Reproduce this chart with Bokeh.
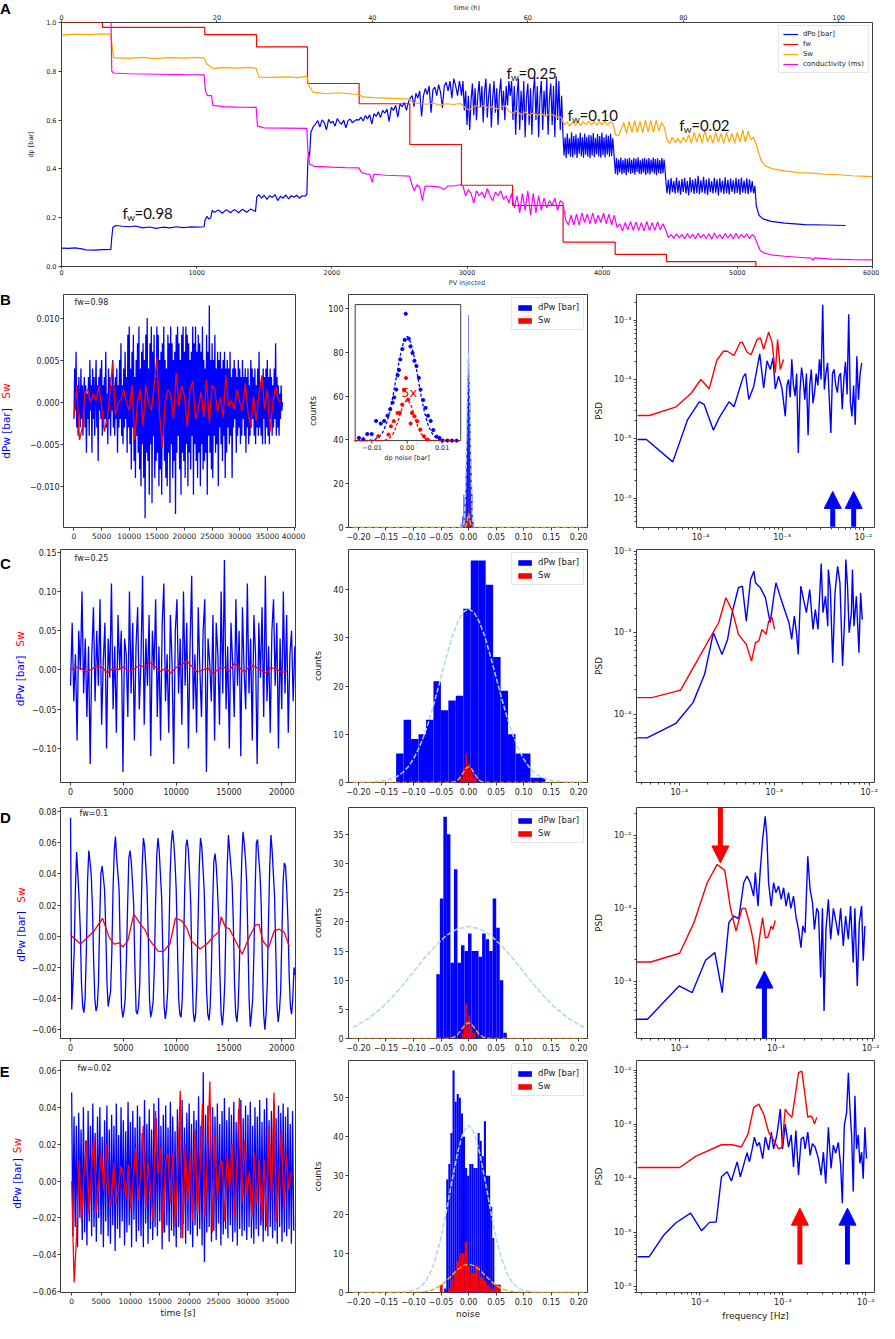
import numpy as np
from bokeh.plotting import figure
from bokeh.layouts import column, row
from bokeh.models import Range1d, LinearAxis, FixedTicker, Label, Arrow, NormalHead
from bokeh.core.properties import value
from bokeh.embed import file_html
from bokeh.resources import INLINE

# ======================= DATA : panel A =======================
pv_per_hour = 57.5
fw_pv = [0, 303, 1060, 1443, 1820, 2202, 2577, 2959, 3337, 3711, 4096, 4476, 5137, 5800]
fw_val = [1.0, 0.98, 0.95, 0.90, 0.75, 0.667, 0.50, 0.333, 0.25, 0.10, 0.05, 0.02, 0.0, 0.0]

dpo_pv = [0, 50, 100, 150, 180, 250, 300, 365, 372, 380, 400, 450, 500, 550, 600, 650, 700, 750, 800, 850,
          900, 950, 1000, 1055, 1062, 1075, 1090, 1105, 1115, 1130, 1160, 1190, 1220, 1250, 1280, 1310, 1340,
          1370, 1400, 1435, 1445, 1460, 1480, 1500, 1520, 1540, 1560, 1580, 1600, 1620, 1640, 1660, 1680, 1700,
          1720, 1740, 1760, 1780, 1800, 1815, 1822, 1828, 1835, 1845, 1860]
dpo_val = [0.075, 0.074, 0.076, 0.072, 0.068, 0.067, 0.069, 0.07, 0.12, 0.16, 0.168, 0.165, 0.163, 0.166, 0.158,
           0.162, 0.156, 0.161, 0.158, 0.163, 0.159, 0.162, 0.161, 0.163, 0.19, 0.205, 0.195, 0.20, 0.23, 0.222,
           0.232, 0.218, 0.233, 0.22, 0.234, 0.22, 0.235, 0.222, 0.236, 0.225, 0.285, 0.295, 0.28, 0.292, 0.275,
           0.29, 0.283, 0.294, 0.27, 0.288, 0.28, 0.293, 0.277, 0.29, 0.284, 0.292, 0.28, 0.29, 0.288, 0.295,
           0.42, 0.47, 0.45, 0.55, 0.57]
# noisy stretches: (start PV, PV step, values)
dpo_noisy = [
    (1880, 16, [0.585, 0.598, 0.572, 0.601, 0.590, 0.560, 0.603, 0.588, 0.595, 0.575, 0.606, 0.592, 0.583, 0.600,
                0.568, 0.598, 0.604, 0.589, 0.596, 0.602]),
    (2200, 16, [0.600, 0.612, 0.596, 0.618, 0.605, 0.622, 0.584, 0.627, 0.615, 0.634, 0.610, 0.640, 0.628, 0.645,
                0.595, 0.652, 0.640, 0.660, 0.612, 0.665, 0.655, 0.672, 0.640, 0.676]),
    (2580, 14, [0.690, 0.700, 0.655, 0.710, 0.690, 0.720, 0.615, 0.700, 0.730, 0.705, 0.740, 0.630, 0.725, 0.735,
                0.700, 0.745, 0.715, 0.650, 0.740, 0.755, 0.720, 0.760, 0.690, 0.770, 0.740, 0.700, 0.760]),
    (2950, 10, [0.740, 0.700, 0.760, 0.640, 0.720, 0.580, 0.700, 0.560, 0.680, 0.750, 0.620, 0.730, 0.600, 0.700,
                0.760, 0.650, 0.740, 0.590, 0.720, 0.770, 0.610, 0.700, 0.750, 0.570, 0.690, 0.760, 0.630, 0.730,
                0.580, 0.710, 0.770, 0.640, 0.720, 0.600, 0.740, 0.660, 0.760, 0.700]),
    (3330, 10, [0.760, 0.600, 0.740, 0.540, 0.700, 0.770, 0.560, 0.720, 0.600, 0.760, 0.530, 0.690, 0.750, 0.580,
                0.730, 0.540, 0.710, 0.780, 0.600, 0.740, 0.530, 0.700, 0.760, 0.560, 0.720, 0.620, 0.770, 0.540,
                0.690, 0.750, 0.580, 0.740, 0.530, 0.780, 0.600, 0.760, 0.560, 0.700]),
    (3710, 8, [0.540, 0.455, 0.530, 0.445, 0.545, 0.460, 0.525, 0.450, 0.550, 0.448, 0.535, 0.458, 0.542, 0.445,
               0.528, 0.462, 0.548, 0.452, 0.530, 0.446, 0.545, 0.458, 0.532, 0.450, 0.540, 0.444, 0.538, 0.455,
               0.547, 0.448, 0.526, 0.460, 0.543, 0.451, 0.535, 0.446, 0.549, 0.456, 0.530, 0.447, 0.541, 0.459,
               0.536, 0.450, 0.544, 0.453, 0.525, 0.470]),
    (4090, 8, [0.440, 0.380, 0.445, 0.375, 0.438, 0.385, 0.447, 0.378, 0.436, 0.382, 0.443, 0.374, 0.440, 0.386,
               0.446, 0.379, 0.437, 0.383, 0.444, 0.376, 0.441, 0.387, 0.448, 0.380, 0.435, 0.378, 0.442, 0.384,
               0.446, 0.375, 0.439, 0.381, 0.444, 0.377, 0.437, 0.386, 0.447, 0.380, 0.440, 0.374, 0.443, 0.383,
               0.436, 0.379, 0.445, 0.382, 0.438, 0.390]),
    (4470, 10, [0.360, 0.300, 0.355, 0.295, 0.362, 0.305, 0.350, 0.298, 0.365, 0.302, 0.352, 0.294, 0.358, 0.306,
                0.363, 0.299, 0.350, 0.292, 0.366, 0.304, 0.355, 0.297, 0.360, 0.301, 0.372, 0.296, 0.353, 0.303,
                0.368, 0.298, 0.356, 0.293, 0.361, 0.305, 0.350, 0.299, 0.364, 0.302, 0.357, 0.291, 0.362, 0.304,
                0.351, 0.297, 0.366, 0.300, 0.355, 0.295, 0.360, 0.306, 0.353, 0.298, 0.363, 0.301, 0.358, 0.294,
                0.365, 0.303, 0.352, 0.299, 0.361, 0.296, 0.357, 0.304, 0.350, 0.300]),
]
dpo_tail_pv = [5130, 5140, 5160, 5190, 5250, 5350, 5500, 5650, 5800]
dpo_tail_val = [0.33, 0.25, 0.21, 0.195, 0.185, 0.178, 0.172, 0.17, 0.168]

sw_pv = [0, 100, 200, 300, 365, 385, 500, 600, 700, 800, 900, 1000, 1055, 1075, 1100, 1120, 1200, 1300, 1400,
         1440, 1460, 1550, 1650, 1750, 1815, 1830, 1860, 1950, 2050, 2150, 2200, 2230, 2300, 2400, 2500, 2570,
         2600, 2650, 2700, 2750, 2800, 2850, 2900, 2950]
sw_val = [0.948, 0.952, 0.950, 0.953, 0.951, 0.856, 0.853, 0.857, 0.852, 0.856, 0.854, 0.857, 0.855, 0.83, 0.82,
          0.812, 0.815, 0.813, 0.816, 0.812, 0.776, 0.775, 0.777, 0.774, 0.78, 0.74, 0.715, 0.708, 0.712, 0.707,
          0.705, 0.695, 0.692, 0.69, 0.688, 0.686, 0.672, 0.668, 0.665, 0.669, 0.662, 0.667, 0.664, 0.668]
sw_noisy = [
    (2980, 30, [0.655, 0.642, 0.650, 0.660, 0.652, 0.661, 0.648, 0.656, 0.645, 0.653, 0.660, 0.635, 0.628, 0.638,
                0.622, 0.633, 0.620, 0.630, 0.618, 0.628, 0.615, 0.626, 0.620, 0.612, 0.610]),
    (3720, 20, [0.58, 0.592, 0.575, 0.593, 0.578, 0.595, 0.577, 0.594, 0.58, 0.596, 0.58, 0.597, 0.578, 0.594,
                0.581, 0.596, 0.579, 0.593, 0.585]),
    (4100, 20, [0.54, 0.535, 0.56, 0.59, 0.545, 0.595, 0.55, 0.598, 0.55, 0.595, 0.548, 0.6, 0.552, 0.598, 0.55,
                0.6, 0.555, 0.59, 0.57]),
    (4480, 20, [0.52, 0.505, 0.53, 0.508, 0.525, 0.505, 0.53, 0.51, 0.54, 0.505, 0.55, 0.51, 0.545, 0.505, 0.56,
                0.51, 0.54, 0.505, 0.55, 0.51, 0.545, 0.505, 0.55, 0.51, 0.545, 0.505, 0.55, 0.51, 0.56, 0.51,
                0.555, 0.52, 0.53]),
]
sw_tail_pv = [5140, 5160, 5180, 5210, 5260, 5350, 5450, 5550, 5650, 5750, 5850, 6000]
sw_tail_val = [0.50, 0.46, 0.43, 0.412, 0.40, 0.392, 0.385, 0.383, 0.378, 0.376, 0.372, 0.368]

cond_pv = [0, 365, 372, 385, 500, 700, 900, 1055, 1065, 1080, 1110, 1120, 1200, 1300, 1440, 1450, 1500, 1650,
           1815, 1822, 1835, 1870, 2000, 2100, 2200, 2220, 2250, 2280, 2300, 2310, 2400, 2500, 2575, 2590, 2610,
           2630, 2650, 2670, 2690, 2750, 2800, 2830, 2860, 2900, 2950]
cond_val = [1.05, 1.05, 0.80, 0.793, 0.79, 0.788, 0.786, 0.785, 0.72, 0.70, 0.70, 0.66, 0.655, 0.653, 0.652,
            0.575, 0.568, 0.567, 0.566, 0.48, 0.42, 0.41, 0.407, 0.405, 0.404, 0.385, 0.38, 0.378, 0.345, 0.378,
            0.374, 0.372, 0.37, 0.34, 0.31, 0.335, 0.325, 0.27, 0.33, 0.328, 0.325, 0.315, 0.33, 0.33, 0.335]
cond_noisy = [
    (2970, 20, [0.33, 0.29, 0.315, 0.30, 0.26, 0.31, 0.29, 0.305, 0.28, 0.32, 0.29, 0.27, 0.305, 0.29, 0.31, 0.275,
                0.29, 0.26, 0.30, 0.24, 0.29, 0.22, 0.30, 0.23, 0.31, 0.21, 0.30, 0.22, 0.29, 0.23, 0.28, 0.24,
                0.27, 0.25, 0.28, 0.23, 0.27, 0.26]),
    (3730, 20, [0.19, 0.17, 0.21, 0.17, 0.215, 0.17, 0.22, 0.18, 0.215, 0.175, 0.22, 0.175, 0.21, 0.18, 0.22,
                0.175, 0.215, 0.17, 0.21]),
    (4110, 20, [0.16, 0.175, 0.145, 0.18, 0.15, 0.185, 0.148, 0.182, 0.148, 0.18, 0.145, 0.185, 0.147, 0.18,
                0.148, 0.183, 0.15, 0.175, 0.15]),
    (4490, 20, [0.118, 0.132, 0.115, 0.134, 0.117, 0.131, 0.114, 0.135, 0.116, 0.133, 0.113, 0.136, 0.117, 0.132,
                0.115, 0.134, 0.112, 0.137, 0.116, 0.131, 0.114, 0.135, 0.117, 0.133, 0.113, 0.136, 0.115, 0.132,
                0.118, 0.134, 0.114, 0.131, 0.12]),
]
cond_tail_pv = [5150, 5170, 5200, 5250, 5350, 5450, 5550, 5560, 5570, 5700, 5850, 6000]
cond_tail_val = [0.09, 0.065, 0.055, 0.048, 0.042, 0.038, 0.034, 0.025, 0.035, 0.03, 0.028, 0.027]

fw_note_text = ["0.98", "0.25", "0.10", "0.02"]
fw_note_pv = [451, 3292, 3744, 4570]
fw_note_dp = [0.219, 0.794, 0.621, 0.578]

# ======================= DATA : rows B-E, time series =======================
b_dt, b_dt_sw = 125, 500
b_dpw = [-0.002, 0.004, -0.001, 0.006, -0.003, 0.002, -0.004, 0.003, 0.000, -0.003, 0.004, -0.002, 0.002, -0.004,
         0.001, 0.003, -0.003, 0.002, -0.006, 0.001,
         -0.002, 0.003, -0.004, 0.005, -0.001, 0.002, -0.006, 0.004, -0.002, 0.003, -0.004, 0.001, 0.005, -0.003,
         0.002, -0.007, 0.003, -0.001, 0.004, -0.002,
         0.005, -0.004, 0.002, -0.003, 0.003, -0.002, 0.006, -0.003, 0.001, -0.005, 0.004, -0.002, 0.003, -0.004,
         0.002, -0.001, 0.005, -0.003, 0.002, -0.004,
         0.003, -0.002, 0.004, -0.006, 0.002, -0.003, 0.005, -0.002, 0.007, -0.004, 0.002, -0.005, 0.004, -0.003,
         0.006, -0.002, 0.003, -0.006, 0.008, -0.003,
         0.009, -0.005, 0.004, -0.008, 0.006, -0.003, 0.008, -0.007, 0.003, -0.009, 0.005, -0.004, 0.007, -0.006,
         0.009, -0.008, 0.004, -0.010, 0.006, -0.005,
         0.007, -0.009, 0.005, -0.0138, 0.008, -0.006, 0.010, -0.007, 0.004, -0.011, 0.007, -0.005, 0.009, -0.012,
         0.006, -0.004, 0.008, -0.009, 0.003, -0.007,
         0.009, -0.006, 0.008, -0.010, 0.005, -0.008, 0.006, -0.011, 0.007, -0.004, 0.009, -0.007, 0.005, -0.009,
         0.004, -0.010, 0.008, -0.006, 0.007, -0.012,
         0.009, -0.005, 0.007, -0.009, 0.005, -0.007, 0.006, -0.0133, 0.008, -0.006, 0.009, -0.004, 0.007, -0.008,
         0.005, -0.011, 0.008, -0.006, 0.009, -0.007,
         0.006, -0.009, 0.009, -0.005, 0.008, -0.010, 0.007, -0.006, 0.005, -0.008, 0.006, -0.004, 0.009, -0.011,
         0.007, -0.005, 0.009, -0.007, 0.006, -0.009,
         0.008, -0.006, 0.007, -0.010, 0.006, -0.005, 0.009, -0.008, 0.005, -0.007, 0.004, -0.006, 0.008, -0.011,
         0.006, -0.004, 0.0115, -0.006, 0.005, -0.008,
         0.007, -0.009, 0.005, -0.004, 0.008, -0.006, 0.004, -0.005, 0.006, -0.010, 0.005, -0.003, 0.006, -0.005,
         0.004, -0.007, 0.005, -0.004, 0.006, -0.009,
         0.004, -0.006, 0.005, -0.003, 0.004, -0.005, 0.006, -0.004, 0.003, -0.009, 0.004, -0.003, 0.005, -0.002,
         0.004, -0.006, 0.003, -0.004, 0.005, -0.003,
         0.004, -0.005, 0.003, -0.004, 0.005, -0.002, 0.003, -0.004, 0.004, -0.006, 0.003, -0.003, 0.004, -0.005,
         0.002, -0.004, 0.005, -0.003, 0.004, -0.002,
         0.003, -0.004, 0.004, -0.005, 0.002, -0.003, 0.004, -0.004, 0.006, -0.003, 0.002, -0.004, 0.003, -0.005,
         0.004, -0.002, 0.003, -0.005, 0.004, -0.003,
         0.005, -0.004, 0.003, -0.005, 0.004, -0.002, 0.003, -0.004, 0.002, -0.003, 0.004, -0.002, 0.007, -0.004,
         0.003, -0.003, 0.002, -0.004, 0.001, -0.002, 0.002, -0.001, 0.0]
b_sw = [-0.0017, 0.002, -0.0045, -0.003, 0.0013, 0.0015, 0.0, 0.001, 0.0002, 0.002, -0.0005, -0.0035, -0.002,
        0.001, 0.0048, -0.0015, 0.0, 0.0003, 0.0015, 0.0, -0.001, 0.002, -0.0045, 0.0, 0.0015, -0.0028, 0.002,
        0.0, -0.001, 0.0018, 0.0053, -0.0015, -0.0054, 0.0, 0.0015, 0.001, -0.002, 0.0035, -0.0005, 0.002,
        0.0008, -0.003, 0.0015, 0.0025, -0.002, -0.0008, 0.0012, -0.0018, 0.0027, -0.0025, 0.002, 0.0015,
        -0.0012, 0.0005, -0.0018, 0.0032, -0.0005, 0.0002, -0.0008, 0.0015, 0.0, -0.001, 0.0022, -0.0012,
        -0.003, 0.0007, -0.0022, 0.001, 0.0032, -0.0008, 0.0015, -0.0035, 0.0, 0.0018, 0.0002, 0.0001]

c_dt, c_dt_sw = 155, 500
c_dpw = [-0.02, 0.06, -0.04, 0.02, -0.09, 0.05, 0.00, 0.10, -0.03, 0.04,
         -0.06, 0.03, -0.12, 0.02, 0.08, -0.04, 0.05, -0.02, 0.09, -0.07,
         0.01, 0.06, -0.10, 0.04, -0.01, 0.11, -0.05, 0.03, -0.08, 0.07,
         0.00, 0.05, -0.13, 0.04, 0.02, -0.06, 0.10, -0.03, 0.06, -0.09,
         0.03, 0.08, -0.05, 0.01, 0.12, -0.07, 0.04, -0.02, 0.07, -0.11,
         0.05, 0.00, 0.09, -0.06, 0.03, -0.09, 0.06, 0.11, -0.04, 0.02,
         -0.08, 0.07, 0.01, -0.12, 0.05, 0.09, -0.03, 0.04, -0.07, 0.10,
         -0.02, 0.06, -0.10, 0.03, 0.12, -0.05, 0.02, -0.08, 0.08, 0.00,
         -0.06, 0.05, 0.09, -0.13, 0.04, 0.01, -0.04, 0.07, -0.09, 0.06,
         0.02, -0.07, 0.10, -0.03, 0.14, -0.05, 0.03, -0.10, 0.06, 0.01,
         -0.06, 0.09, -0.02, 0.05, -0.11, 0.08, 0.00, -0.05, 0.11, -0.03,
         0.04, -0.09, 0.07, 0.02, -0.12, 0.06, -0.01, 0.08, -0.06, 0.12,
         -0.04, 0.03, -0.08, 0.05, 0.09, -0.02, 0.06, -0.10, 0.04, -0.05,
         0.10, -0.03, 0.07, -0.08, 0.02, 0.05, -0.04, 0.03]
c_sw = [0.0, 0.004, 0.002, -0.003, 0.001, 0.005, 0.003, -0.004, 0.002, 0.0, 0.004, -0.002, 0.001, 0.006, 0.003,
        0.010, 0.004, -0.002, 0.002, -0.004, 0.003, 0.006, 0.012, 0.004, -0.003, 0.0, 0.002, -0.005, 0.001,
        0.004, -0.002, 0.008, 0.003, -0.003, 0.006, 0.004, 0.0, -0.004, 0.003, 0.001, -0.003, -0.002]

d_dt = 115
d_dpw = [0.076, -0.047, -0.030, -0.010, 0.030, 0.054, 0.040, 0.025, 0.005, -0.030, -0.045, -0.049,
         -0.040, -0.010, 0.035, 0.055, 0.048, 0.040, 0.020, -0.015, -0.040, -0.048, -0.045, -0.030,
         0.010, 0.040, 0.045, 0.038, 0.030, 0.005, -0.030, -0.045, -0.040, -0.035, -0.010, 0.030,
         0.055, 0.064, 0.050, 0.040, 0.030, -0.010, -0.045, -0.052, -0.048, -0.040, -0.015, 0.020,
         0.050, 0.055, 0.048, 0.035, 0.020, -0.020, -0.048, -0.050, -0.045, -0.030, 0.010, 0.045,
         0.063, 0.058, 0.045, 0.030, 0.000, -0.040, -0.052, -0.048, -0.042, -0.020, 0.020, 0.052,
         0.063, 0.055, 0.040, 0.025, -0.010, -0.045, -0.053, -0.047, -0.035, 0.000, 0.040, 0.060,
         0.068, 0.060, 0.048, 0.030, -0.005, -0.040, -0.050, -0.052, -0.040, -0.010, 0.030, 0.058,
         0.062, 0.055, 0.040, 0.020, -0.020, -0.048, -0.055, -0.050, -0.030, 0.010, 0.045, 0.063,
         0.058, 0.045, 0.030, 0.000, -0.035, -0.050, -0.054, -0.045, -0.020, 0.020, 0.048, 0.053,
         0.045, 0.030, 0.010, -0.025, -0.050, -0.057, -0.048, -0.030, 0.010, 0.045, 0.065, 0.055,
         0.045, 0.035, 0.010, -0.030, -0.050, -0.055, -0.045, -0.020, 0.020, 0.050, 0.067, 0.060,
         0.050, 0.035, 0.000, -0.040, -0.058, -0.050, -0.040, -0.010, 0.030, 0.060, 0.062, 0.050,
         0.040, 0.020, -0.020, -0.050, -0.060, -0.050, -0.030, 0.010, 0.045, 0.065, 0.055, 0.040,
         0.025, -0.010, -0.045, -0.055, -0.048, -0.035, 0.000, 0.035, 0.047, 0.045, 0.030, 0.010,
         -0.025, -0.045, -0.050, -0.040, -0.020, -0.025]
d_sw_t = [0, 956, 2230, 3030, 3670, 4140, 4620, 4940, 5420, 5990, 6690, 7070, 7490, 8290, 8765, 9400, 9940, 10520,
          11000, 11470, 12270, 12910, 13550, 14020, 14270, 14660, 15040, 15770, 16250, 16890, 17520, 17840, 18220,
          18740, 19280, 19760, 20240, 20720]
d_sw = [0.0008, -0.005, 0.0034, 0.0115, -0.0009, -0.005, -0.0042, -0.007, -0.003, 0.0142, 0.0072, 0.0039,
        -0.0025, -0.0095, -0.0099, -0.005, 0.0117, 0.010, 0.0053, -0.0032, -0.0082, -0.005, 0.0, 0.0025, 0.0125,
        0.0058, 0.0048, -0.005, -0.0115, -0.0009, 0.0072, 0.0076, -0.0032, -0.0075, 0.0034, 0.0045, 0.0025,
        -0.0066]

e_dt, e_dt_sw = 200, 420
e_dpw = [0.048, -0.030, 0.035, -0.025, 0.030, -0.036, 0.037, -0.020, 0.028, -0.032,
         0.040, -0.028, 0.022, -0.035, 0.038, -0.022, 0.030, -0.030, 0.042, -0.025,
         0.026, -0.033, 0.035, -0.020, 0.040, -0.029, 0.024, -0.036, 0.033, -0.022,
         0.041, -0.030, 0.028, -0.034, 0.036, -0.024, 0.030, -0.038, 0.042, -0.026,
         0.025, -0.031, 0.040, -0.022, 0.033, -0.035, 0.027, -0.028, 0.043, -0.024,
         0.032, -0.036, 0.038, -0.021, 0.029, -0.033, 0.041, -0.027, 0.035, -0.030,
         0.026, -0.036, 0.044, -0.023, 0.031, -0.034, 0.039, -0.026, 0.028, -0.032,
         0.042, -0.025, 0.034, -0.030, 0.045, -0.022, 0.030, -0.037, 0.036, -0.028,
         0.041, -0.024, 0.029, -0.033, 0.043, -0.027, 0.035, -0.030, 0.027, -0.036,
         0.039, -0.025, 0.032, -0.031, 0.044, -0.023, 0.029, -0.034, 0.037, -0.027,
         0.042, -0.029, 0.031, -0.036, 0.038, -0.024, 0.033, -0.030, 0.046, -0.026,
         0.030, -0.035, 0.059, -0.044, 0.036, -0.028, 0.041, -0.025, 0.030, -0.033,
         0.040, -0.027, 0.035, -0.032, 0.042, -0.023, 0.031, -0.035, 0.038, -0.029,
         0.045, -0.026, 0.033, -0.031, 0.040, -0.024, 0.036, -0.033, 0.043, -0.028,
         0.032, -0.035, 0.039, -0.026, 0.044, -0.030, 0.034, -0.027, 0.041, -0.032,
         0.036, -0.025, 0.043, -0.031, 0.030, -0.034, 0.040, -0.026, 0.035, -0.030,
         0.044, -0.024, 0.032, -0.033, 0.039, -0.027, 0.045, -0.030, 0.033, -0.025,
         0.038, -0.031, 0.043, -0.027, 0.034, -0.034, 0.041, -0.025, 0.037, -0.033,
         0.042, -0.028, 0.035, -0.030, 0.040, -0.026, 0.031, -0.034, 0.038, -0.027]
e_sw = [0.000, -0.055, -0.030, 0.011, -0.022, 0.003, 0.022, -0.018, 0.005, 0.024,
        -0.017, 0.000, 0.016, -0.005, 0.020, -0.006, -0.014, 0.010, -0.012, -0.003,
        0.008, 0.003, -0.010, 0.009, -0.015, 0.002, 0.018, -0.010, 0.005, 0.030,
        -0.015, 0.010, -0.005, -0.022, 0.038, 0.004, 0.018, -0.028, 0.010, 0.015,
        -0.012, 0.015, -0.025, 0.008, 0.049, -0.031, 0.020, -0.012, 0.015, -0.022,
        0.028, -0.018, 0.005, 0.042, -0.020, 0.012, 0.054, -0.028, 0.025, -0.010,
        0.008, 0.011, -0.022, 0.015, -0.005, 0.020, -0.020, 0.010, 0.045, -0.012,
        0.022, -0.008, 0.005, -0.020, 0.015, -0.012, 0.012, -0.022, 0.012, -0.025,
        0.030, -0.010, 0.048, -0.022, 0.005, 0.028, -0.015, 0.015, -0.005, 0.005]

# ======================= DATA : histograms =======================
b_hist_x = [-0.01374, -0.01249, -0.01134, -0.01009, -0.00884, -0.00749, -0.00653, -0.00557, -0.0048, -0.00413,
            -0.00365, -0.00307, -0.00269, -0.00231, -0.00192, -0.00134, -0.00067, -0.00038, 0.00048, 0.00096,
            0.00154, 0.00211, 0.00269, 0.00336, 0.00384, 0.00461, 0.00528, 0.00596, 0.00672, 0.00749, 0.00845,
            0.00922, 0.01009, 0.0115, 0.0128, 0.0141]
b_hist_n = [2, 1, 5, 5, 15, 13, 15, 19, 24, 29, 33, 39, 50, 54, 62, 70, 77, 97, 78, 72, 67, 61, 57, 48, 39, 31,
            25, 19, 15, 8, 3, 2, 0, 0, 0, 0]
b_sw_x = [-0.0082, -0.0053, -0.0046, -0.0038, -0.0027, -0.0021, -0.0014, -0.0008, -0.0003, 0.0003, 0.001,
          0.0014, 0.0021, 0.0029, 0.0038, 0.0048, 0.0058]
b_sw_n = [0.66, 0.92, 2.18, 2.96, 4.22, 4.22, 5.5, 7.78, 9.56, 6.26, 2.6, 4.22, 3.72, 2.96, 1.68, 0.66, 0.16]
inset_scale = 5
b_gauss_x = [-0.21, -0.015, -0.012, -0.010, -0.009, -0.008, -0.007, -0.006, -0.005, -0.004, -0.003, -0.002,
             -0.001, 0.0, 0.001, 0.002, 0.003, 0.004, 0.005, 0.006, 0.007, 0.008, 0.009, 0.010, 0.012, 0.015, 0.21]
b_gauss_dpw = [0, 0, 0.04, 0.41, 1.12, 2.74, 6.04, 11.96, 21.3, 34.3, 49.6, 64.5, 75.5, 79.6, 75.5, 64.5, 49.6,
               34.3, 21.3, 11.96, 6.04, 2.74, 1.12, 0.41, 0.04, 0, 0]
b_gauss_sw = [0, 0, 0, 0, 0, 0, 0.02, 0.11, 0.37, 1.02, 2.26, 3.98, 5.59, 6.26, 5.59, 3.98, 2.26, 1.02, 0.37,
              0.11, 0.02, 0, 0, 0, 0, 0, 0]

c_hist_lo, c_hist_hi = -0.1315, 0.1395
c_hist_n = [6, 13, 9, 10, 13, 21, 15, 17, 18, 36, 46, 46, 41, 26, 19, 10, 6, 6, 1, 1]
c_sw_lo, c_sw_hi = -0.0155, 0.0145
c_sw_n = [1, 1, 2, 3, 6, 3, 4, 3, 2, 2, 1, 1]
c_gauss_x = [-0.21, -0.18, -0.15, -0.13, -0.12, -0.11, -0.10, -0.09, -0.08, -0.07, -0.06, -0.05, -0.04, -0.03,
             -0.02, -0.01, 0.0, 0.01, 0.02, 0.03, 0.04, 0.05, 0.06, 0.07, 0.08, 0.09, 0.10, 0.11, 0.12, 0.13,
             0.15, 0.18, 0.21]
c_gauss_dpw = [0.0, 0.055, 0.40, 1.22, 2.02, 3.2, 4.87, 7.13, 10.0, 13.5, 17.5, 21.8, 26.1, 30.1, 33.2, 35.3,
               36.0, 35.3, 33.2, 30.1, 26.1, 21.8, 17.5, 13.5, 10.0, 7.13, 4.87, 3.2, 2.02, 1.22, 0.40, 0.055, 0.0]
c_gauss_sw_x = [-0.21, -0.04, -0.03, -0.025, -0.02, -0.015, -0.01, -0.005, 0.0, 0.005, 0.01, 0.015, 0.02, 0.025,
                0.03, 0.04, 0.21]
c_gauss_sw = [0, 0, 0.04, 0.145, 0.45, 1.07, 2.0, 2.91, 3.3, 2.91, 2.0, 1.07, 0.45, 0.145, 0.04, 0, 0]

d_hist_lo, d_hist_hi = -0.0585, 0.0694
d_hist_n = [11, 24, 38, 35, 13, 29, 13, 16, 15, 18, 15, 15, 14, 18, 17, 15, 24, 19, 10, 1]
d_sw_lo, d_sw_hi = -0.015, 0.015
d_sw_n = [0, 1, 2, 6, 3, 4, 2, 1, 1, 0]
d_gauss_x = [-0.21, -0.20, -0.18, -0.16, -0.14, -0.12, -0.10, -0.08, -0.06, -0.04, -0.02, 0.0, 0.02, 0.04, 0.06,
             0.08, 0.10, 0.12, 0.14, 0.16, 0.18, 0.20, 0.21]
d_gauss_dpw = [1.93, 2.39, 3.55, 5.06, 6.92, 9.07, 11.4, 13.8, 15.9, 17.7, 18.8, 19.2, 18.8, 17.7, 15.9, 13.8,
               11.4, 9.07, 6.92, 5.06, 3.55, 2.39, 1.93]
d_gauss_sw_x = [-0.21, -0.05, -0.04, -0.03, -0.025, -0.02, -0.015, -0.01, -0.005, 0.0, 0.005, 0.01, 0.015, 0.02,
                0.025, 0.03, 0.04, 0.05, 0.21]
d_gauss_sw = [0, 0, 0.01, 0.12, 0.31, 0.67, 1.24, 1.91, 2.48, 2.7, 2.48, 1.91, 1.24, 0.67, 0.31, 0.12, 0.01, 0, 0]

e_hist_lo, e_hist_hi = -0.0443, 0.0582
e_hist_n = [1, 29, 33, 41, 57, 49, 51, 50, 46, 40, 32, 30, 33, 33, 32, 32, 41, 39, 35, 44, 30, 30, 22, 14, 2, 2, 2]
e_sw_lo, e_sw_hi = -0.052, 0.058
e_sw_n = [2, 0, 0, 1, 3, 5, 8, 10, 10, 13, 7, 5, 5, 7, 4, 4, 3, 2, 1, 1, 2, 2]
e_gauss_x = [-0.21, -0.15, -0.12, -0.10, -0.09, -0.08, -0.07, -0.06, -0.05, -0.04, -0.03, -0.02, -0.01, 0.0,
             0.01, 0.02, 0.03, 0.04, 0.05, 0.06, 0.07, 0.08, 0.09, 0.10, 0.12, 0.15, 0.21]
e_gauss_dpw = [0, 0, 0.07, 0.49, 1.16, 2.47, 4.82, 8.62, 14.1, 21.0, 28.8, 35.9, 41.1, 43.0, 41.1, 35.9, 28.8,
               21.0, 14.1, 8.62, 4.82, 2.47, 1.16, 0.49, 0.07, 0, 0]
e_gauss_sw_x = [-0.21, -0.12, -0.10, -0.08, -0.07, -0.06, -0.05, -0.04, -0.03, -0.02, -0.01, 0.0, 0.01, 0.02,
                0.03, 0.04, 0.05, 0.06, 0.07, 0.08, 0.10, 0.12, 0.21]
e_gauss_sw = [0, 0, 0.03, 0.21, 0.48, 0.99, 1.82, 3.0, 4.43, 5.85, 6.9, 7.3, 6.9, 5.85, 4.43, 3.0, 1.82, 0.99,
              0.48, 0.21, 0.03, 0, 0]

# ======================= DATA : PSD (log10 frequency, log10 PSD) =======================
b_psd_f = [-4.778, -4.668, -4.344, -4.161, -4.018, -3.958, -3.844, -3.774, -3.652, -3.591, -3.478, -3.449, -3.409,
           -3.348, -3.274, -3.226, -3.185, -3.144, -3.112, -3.083, -3.043, -3.002, -2.96, -2.94, -2.92, -2.90,
           -2.88, -2.86, -2.84, -2.82, -2.80, -2.78, -2.76, -2.74, -2.72, -2.70, -2.68, -2.66, -2.64, -2.62,
           -2.60, -2.58, -2.56, -2.54, -2.52, -2.50, -2.48, -2.46, -2.44, -2.42, -2.40, -2.38, -2.36, -2.34,
           -2.32, -2.30, -2.28, -2.26, -2.24, -2.22, -2.20, -2.18, -2.16, -2.14, -2.12, -2.10, -2.08, -2.06,
           -2.04, -2.02]
b_psd_dpw = [-5.012, -5.01, -5.388, -4.675, -4.376, -4.42, -4.855, -4.646, -4.376, -4.46, -3.955, -3.899, -4.337,
             -4.113, -3.567, -4.147, -3.685, -3.831, -3.634, -4.157, -3.944, -4.14, -4.62, -4.1, -4.0, -4.3,
             -3.66, -4.1, -4.28, -3.9, -5.24, -4.2, -3.80, -4.0, -4.34, -3.9, -4.94, -4.1, -3.83, -4.4, -4.22,
             -3.9, -4.1, -3.66, -4.0, -2.74, -4.17, -3.9, -3.72, -4.3, -4.9, -3.9, -3.83, -4.1, -4.22, -3.95,
             -3.89, -4.5, -4.0, -3.7, -4.25, -2.90, -4.38, -4.62, -4.1, -4.76, -3.61, -4.34, -3.9, -3.72]
b_psd_sw_f = [-4.778, -4.63, -4.302, -4.12, -3.998, -3.896, -3.802, -3.721, -3.673, -3.591, -3.518, -3.49,
              -3.429, -3.38, -3.307, -3.266, -3.226, -3.165, -3.124, -3.083, -3.055, -3.022, -2.982]
b_psd_sw = [-4.607, -4.607, -4.46, -4.236, -4.0, -4.157, -3.675, -3.523, -3.523, -3.595, -3.381, -3.37, -3.54,
            -3.58, -3.325, -3.30, -3.49, -3.202, -3.37, -3.887, -3.325, -3.83, -3.663]

c_psd_f = [-4.443, -4.339, -4.034, -3.855, -3.733, -3.64, -3.55, -3.491, -3.439, -3.377, -3.335, -3.294, -3.249,
           -3.214, -3.197, -3.145, -3.093, -3.042, -3.006, -2.982, -2.938, -2.886, -2.844, -2.816, -2.788, -2.764,
           -2.747, -2.72, -2.695, -2.661, -2.626, -2.591, -2.567, -2.539, -2.505, -2.487, -2.46, -2.436, -2.43,
           -2.409, -2.384, -2.36, -2.332, -2.308, -2.28, -2.256, -2.246, -2.228, -2.211, -2.187, -2.176, -2.16,
           -2.135, -2.108, -2.09, -2.073]
c_psd_dpw = [-4.289, -4.289, -4.11, -3.857, -3.51, -3.0, -3.266, -3.082, -2.736, -2.449, -2.429, -2.858, -2.348,
             -2.246, -2.388, -2.45, -2.57, -2.878, -2.57, -2.388, -2.552, -2.736, -2.878, -3.082, -2.797, -3.02,
             -3.266, -2.43, -2.57, -2.755, -2.47, -2.96, -2.715, -2.96, -2.152, -2.755, -2.552, -2.92, -2.225,
             -2.47, -3.367, -2.51, -2.185, -2.388, -3.409, -2.755, -2.103, -2.43, -3.0, -2.755, -2.225, -2.92,
             -2.552, -3.245, -2.51, -2.84]
c_psd_sw_f = [-4.443, -4.288, -3.986, -3.665, -3.585, -3.509, -3.439, -3.377, -3.294, -3.239, -3.197, -3.162,
              -3.128, -3.086, -3.058, -3.024, -2.996]
c_psd_sw = [-3.796, -3.796, -3.703, -3.042, -2.878, -2.572, -2.736, -3.02, -3.143, -3.348, -3.122, -3.10, -2.96,
            -3.02, -2.86, -2.81, -2.96]

d_psd_f = [-4.445, -4.334, -4.006, -3.869, -3.731, -3.634, -3.558, -3.489, -3.437, -3.386, -3.334, -3.3, -3.266,
           -3.231, -3.214, -3.186, -3.162, -3.138, -3.111, -3.093, -3.076, -3.049, -3.024, -3.0, -2.972, -2.945,
           -2.92, -2.894, -2.869, -2.845, -2.817, -2.793, -2.765, -2.74, -2.721, -2.697, -2.669, -2.645, -2.62,
           -2.6, -2.576, -2.558, -2.535, -2.517, -2.5, -2.48, -2.455, -2.431, -2.403, -2.379, -2.352, -2.328, -2.3,
           -2.276, -2.248, -2.224, -2.197, -2.18, -2.155, -2.134, -2.11, -2.093, -2.076]
d_psd_dpw = [-4.521, -4.521, -4.064, -4.155, -3.712, -3.607, -4.155, -3.196, -3.105, -3.14, -2.648, -2.557,
             -2.648, -2.832, -2.51, -2.969, -2.465, -2.055, -1.736, -2.037, -2.648, -2.969, -2.648, -2.785, -2.694,
             -2.877, -2.717, -2.969, -2.785, -3.0, -2.832, -3.105, -3.288, -3.538, -3.242, -3.333, -2.284, -2.74,
             -2.923, -3.288, -3.0, -3.05, -3.949, -3.0, -4.406, -3.288, -2.877, -3.425, -3.0, -3.164, -3.37, -3.0,
             -3.516, -3.105, -3.425, -2.969, -3.744, -3.0, -4.064, -3.196, -2.969, -3.717, -3.242]
d_psd_sw_f = [-4.445, -4.3, -4.0, -3.851, -3.714, -3.61, -3.531, -3.473, -3.414, -3.352, -3.317, -3.266, -3.231,
              -3.204, -3.173, -3.138, -3.11, -3.083, -3.049, -3.031, -3.007]
d_psd_sw = [-3.736, -3.736, -3.616, -3.196, -2.648, -2.397, -2.479, -2.99, -3.311, -3.0, -3.0, -3.242, -3.47,
            -3.767, -3.425, -3.128, -3.406, -3.393, -3.242, -3.288, -3.164]

e_psd_f = [-4.753, -4.612, -4.432, -4.293, -4.113, -3.981, -3.885, -3.804, -3.741, -3.672, -3.621, -3.552, -3.513,
           -3.432, -3.404, -3.372, -3.344, -3.312, -3.284, -3.244, -3.212, -3.172, -3.14, -3.112, -3.072, -3.032,
           -3.004, -2.972, -2.932, -2.9, -2.872, -2.844, -2.812, -2.78, -2.752, -2.732, -2.7, -2.672, -2.644,
           -2.612, -2.572, -2.54, -2.512, -2.484, -2.452, -2.42, -2.392, -2.364, -2.332, -2.304, -2.284, -2.26,
           -2.232, -2.211, -2.192, -2.172, -2.152, -2.132, -2.112, -2.092, -2.072, -2.052, -2.032, -2.012, -1.992]
e_psd_dpw = [-5.443, -5.443, -5.035, -4.82, -4.637, -4.962, -4.808, -4.802, -3.965, -3.874, -4.045, -3.69, -3.965,
             -3.52, -3.69, -3.465, -3.233, -3.397, -3.33, -3.63, -3.23, -3.47, -3.141, -3.45, -3.19, -2.714, -3.45,
             -2.989, -3.416, -3.19, -3.782, -3.11, -3.936, -3.264, -3.234, -3.45, -3.141, -3.569, -3.355, -3.416,
             -3.63, -3.936, -3.51, -4.088, -3.05, -3.813, -3.38, -3.53, -3.33, -3.752, -4.454, -3.02, -2.775,
             -2.043, -2.714, -3.19, -4.24, -2.471, -3.45, -3.19, -3.72, -3.51, -4.0, -3.05, -3.63]
e_psd_sw_f = [-4.753, -4.245, -4.053, -3.741, -3.612, -3.501, -3.42, -3.352, -3.292, -3.232, -3.172, -3.112,
              -3.052, -3.012, -2.972, -2.932, -2.892, -2.852, -2.812, -2.772, -2.732, -2.7, -2.672, -2.644, -2.62,
              -2.592]
e_psd_sw = [-3.795, -3.795, -3.588, -3.374, -3.374, -3.416, -3.172, -2.683, -2.623, -2.806, -3.141, -3.29, -3.45,
            -3.42, -2.714, -2.806, -2.868, -2.471, -2.043, -2.013, -2.471, -2.868, -2.84, -2.868, -2.989, -2.868]

# arrows: (frequency, psd_base, psd_tip, colour)
b_arrows = [(4.2e-3, 3.3e-7, 1.3e-6, "blue"), (7.6e-3, 3.3e-7, 1.3e-6, "blue")]
d_arrows = [(2.65e-4, 2.4e-2, 4.2e-3, "red"), (7.6e-4, 1.65e-5, 1.38e-4, "blue")]
e_arrows = [(1.6e-3, 2.6e-6, 2.85e-5, "red"), (6.0e-3, 2.6e-6, 2.85e-5, "blue")]

# ======================= STYLE HELPERS =======================
FONT = "DejaVu Sans"
MINUS = "\u2212"
BLUE, RED, ORANGE, MAGENTA, LIGHTBLUE = "#0000ff", "#ff0000", "#ffa500", "#ff00ff", "#add8e6"
FRAME, TXT = "#3c3c3c", "#1a1a1a"
COLORS = {"blue": BLUE, "red": RED}
SUP = str.maketrans("-0123456789", "\u207b\u2070\u00b9\u00b2\u00b3\u2074\u2075\u2076\u2077\u2078\u2079")
STRIP_W = 26


def lab(v, nd):
    s = f"{abs(v):.{nd}f}"
    return (MINUS + s) if v < 0 else s


def loglab(e):
    return "10" + str(e).translate(SUP)


def make_fig(w, h, xr, yr, borders, xtype="linear", ytype="linear"):
    l, r, t, b = borders
    p = figure(width=w, height=h, x_range=xr, y_range=yr, x_axis_type=xtype, y_axis_type=ytype,
               output_backend="svg", toolbar_location=None,
               min_border_left=l, min_border_right=r, min_border_top=t, min_border_bottom=b)
    p.outline_line_color = FRAME
    p.outline_line_width = 1
    p.xgrid.visible = False
    p.ygrid.visible = False
    p.background_fill_color = "white"
    p.border_fill_color = "white"
    return p


def style_axis(ax, fs, ticks, labels, minor=None, tick_len=3):
    ax.ticker = FixedTicker(ticks=list(ticks), minor_ticks=list(minor) if minor else [])
    ax.major_label_overrides = dict(zip(ticks, labels))
    ax.axis_line_color = None
    ax.major_tick_line_color = FRAME
    ax.major_tick_out = tick_len
    ax.major_tick_in = 0
    if minor:
        ax.minor_tick_line_color = FRAME
        ax.minor_tick_out = 2
        ax.minor_tick_in = 0
    else:
        ax.minor_tick_line_color = None
    ax.major_label_text_font = FONT
    ax.major_label_text_font_size = fs
    ax.major_label_text_color = TXT
    ax.major_label_standoff = 2
    ax.axis_label_text_font = FONT
    ax.axis_label_text_font_style = "normal"
    ax.axis_label_text_color = TXT


def canvas_label(p, text, x, y, color=TXT, size="10px", angle=0.0, align="center", baseline="middle",
                 font=FONT, style="normal", place="center"):
    lbl = Label(x=x, y=y, x_units="canvas", y_units="canvas", text=text, text_color=color,
                text_font_size=size, angle=angle, text_align=align, text_baseline=baseline,
                text_font=font, text_font_style=style)
    if place == "center":
        p.add_layout(lbl)
    else:
        p.add_layout(lbl, place)


def assemble(pv, val, noisy, tail_pv, tail_val):
    xs, ys = list(pv), list(val)
    for start, step, vals in noisy:
        xs += [start + step * i for i in range(len(vals))]
        ys += list(vals)
    return xs + list(tail_pv), ys + list(tail_val)


def log_minor(lo, hi):
    out = []
    for e in range(lo, hi):
        for m in range(2, 10):
            out.append(m * 10.0 ** e)
    return out


# ======================= PANEL A =======================
pA = make_fig(879, 289, Range1d(0, 6000), Range1d(0, 1.0), (61, 7, 18, 21))
ax_bottom = pA.xaxis[0]
ax_left = pA.yaxis[0]
dx, dy = assemble(dpo_pv, dpo_val, dpo_noisy, dpo_tail_pv, dpo_tail_val)
sx, sy = assemble(sw_pv, sw_val, sw_noisy, sw_tail_pv, sw_tail_val)
cx, cy = assemble(cond_pv, cond_val, cond_noisy, cond_tail_pv, cond_tail_val)
pA.line(dx, dy, color=BLUE, line_width=1.2, legend_label="dPo [bar]")
pA.step(fw_pv, fw_val, mode="after", color=RED, line_width=1.2, legend_label="fw")
pA.line(sx, sy, color=ORANGE, line_width=1.2, legend_label="Sw")
pA.line(cx, cy, color=MAGENTA, line_width=1.2, legend_label="conductivity (ms)")
pA.extra_x_ranges = {"time": Range1d(0, 6000 / pv_per_hour)}
top_ax = LinearAxis(x_range_name="time", axis_label="time (h)")
pA.add_layout(top_ax, "above")
style_axis(top_ax, "6.5px", [0, 20, 40, 60, 80, 100], ["0", "20", "40", "60", "80", "100"])
top_ax.axis_label_text_font_size = "6.5px"
top_ax.axis_label_standoff = 0
top_ax.major_label_standoff = 1
top_ax.major_tick_out = 2
style_axis(ax_bottom, "6.5px", [0, 1000, 2000, 3000, 4000, 5000, 6000],
           ["0", "1000", "2000", "3000", "4000", "5000", "6000"])
ax_bottom.axis_label = "PV injected"
ax_bottom.axis_label_text_font_size = "6.5px"
ax_bottom.axis_label_text_color = "black"
ax_bottom.axis_label_text_alpha = 0.85
ax_bottom.axis_label_standoff = 1
ax_bottom.major_label_standoff = 1
ax_bottom.major_tick_out = 2
style_axis(ax_left, "6.5px", [0.0, 0.2, 0.4, 0.6, 0.8, 1.0], ["0.0", "0.2", "0.4", "0.6", "0.8", "1.0"])
ax_left.axis_label = "dp [bar]"
ax_left.axis_label_text_font_size = "6.5px"
ax_left.axis_label_standoff = 8
lg = pA.legend[0]
lg.location = "top_right"
lg.label_text_font = FONT
lg.label_text_font_size = "7px"
lg.label_text_color = TXT
lg.glyph_width = 15
lg.glyph_height = 8
lg.label_height = 8
lg.spacing = 2
lg.padding = 4
lg.margin = 3
lg.border_line_color = "#cccccc"
lg.background_fill_alpha = 0.85
for t, xv, yv in zip(fw_note_text, fw_note_pv, fw_note_dp):
    pA.add_layout(Label(x=xv, y=yv, text="f", text_font="Lato", text_font_size="15px",
                        text_baseline="alphabetic", text_color="#111111"))
    pA.add_layout(Label(x=xv, y=yv, x_offset=4.5, y_offset=-4, text="w", text_font="Lato",
                        text_font_size="10px", text_baseline="alphabetic", text_color="#111111"))
    pA.add_layout(Label(x=xv, y=yv, x_offset=12, text="=" + t, text_font="Lato", text_font_size="15px",
                        text_baseline="alphabetic", text_color="#111111"))
canvas_label(pA, "A", 5, 8, size="15px", font="Liberation Sans", style="bold", color="#000000", place="left")

# ======================= ROWS B-E =======================
rows_cfg = [
    dict(key="B", h=255, t=5, b=17, fw="fw=0.98", fw_x=74 - STRIP_W, fw_y=13,
         x=(-1900, 40100), y=(-0.0149, 0.0128), xfs="7.5px",
         xt=[0, 5000, 10000, 15000, 20000, 25000, 30000, 35000, 40000],
         yt=[-0.010, -0.005, 0.0, 0.005, 0.010], ynd=3,
         dpw=(np.arange(len(b_dpw)) * b_dt, b_dpw), sw=(np.arange(len(b_sw)) * b_dt_sw, b_sw),
         lab_y=(101.5, 144), lab_x=5, letter=(5, 10),
         hy=(0, 106.4), hyt=[0, 20, 40, 60, 80, 100],
         py=(10 ** -6.494, 10 ** -2.567), pyt=[-6, -5, -4, -3], px=(10 ** -4.79, 10 ** -1.863),
         psd=(b_psd_f, b_psd_dpw, b_psd_sw_f, b_psd_sw), arrows=b_arrows),
    dict(key="C", h=258, t=5, b=20, fw="fw=0.25", fw_x=74 - STRIP_W, fw_y=13.5,
         x=(-950, 21300), y=(-0.1435, 0.1535), xfs="8px",
         xt=[0, 5000, 10000, 15000, 20000], yt=[-0.10, -0.05, 0.0, 0.05, 0.10, 0.15], ynd=2,
         dpw=(np.arange(len(c_dpw)) * c_dt, c_dpw), sw=(np.arange(len(c_sw)) * c_dt_sw, c_sw),
         lab_y=(94.5, 136.5), lab_x=19, letter=(5, 19),
         hy=(0, 48.3), hyt=[0, 10, 20, 30, 40],
         py=(10 ** -4.836, 10 ** -1.98), pyt=[-4, -3, -2], px=(10 ** -4.45, 10 ** -1.944),
         psd=(c_psd_f, c_psd_dpw, c_psd_sw_f, c_psd_sw), arrows=[]),
    dict(key="D", h=253, t=5, b=17, fw="fw=0.1", fw_x=79 - STRIP_W, fw_y=11,
         x=(-950, 21300), y=(-0.0656, 0.0826), xfs="8px",
         xt=[0, 5000, 10000, 15000, 20000], yt=[-0.06, -0.04, -0.02, 0.0, 0.02, 0.04, 0.06, 0.08], ynd=2,
         dpw=(np.arange(len(d_dpw)) * d_dt, d_dpw), sw=(d_sw_t, d_sw),
         lab_y=(92.5, 134), lab_x=20, letter=(5, 14.5),
         hy=(0, 39.6), hyt=[0, 5, 10, 15, 20, 25, 30, 35],
         py=(10 ** -4.785, 10 ** -1.616), pyt=[-4, -3, -2], px=(10 ** -4.448, 10 ** -1.976),
         psd=(d_psd_f, d_psd_dpw, d_psd_sw_f, d_psd_sw), arrows=d_arrows),
    dict(key="E", h=268, t=5, b=29, fw="fw=0.02", fw_x=77 - STRIP_W, fw_y=13,
         x=(-1900, 38100), y=(-0.0605, 0.0654), xfs="7.5px",
         xt=[0, 5000, 10000, 15000, 20000, 25000, 30000, 35000],
         yt=[-0.06, -0.04, -0.02, 0.0, 0.02, 0.04, 0.06], ynd=2,
         dpw=(np.arange(len(e_dpw)) * e_dt, e_dpw), sw=(np.arange(len(e_sw)) * e_dt_sw, e_sw),
         lab_y=(90, 128), lab_x=16.5, letter=(4, 16),
         hy=(0, 59.6), hyt=[0, 10, 20, 30, 40, 50],
         py=(10 ** -6.104, 10 ** -1.817), pyt=[-6, -5, -4, -3, -2], px=(10 ** -4.765, 10 ** -1.896),
         psd=(e_psd_f, e_psd_dpw, e_psd_sw_f, e_psd_sw), arrows=e_arrows),
]

hist_cfg = {
    "C": (c_hist_lo, c_hist_hi, c_hist_n, c_sw_lo, c_sw_hi, c_sw_n, c_gauss_x, c_gauss_dpw, c_gauss_sw_x, c_gauss_sw),
    "D": (d_hist_lo, d_hist_hi, d_hist_n, d_sw_lo, d_sw_hi, d_sw_n, d_gauss_x, d_gauss_dpw, d_gauss_sw_x, d_gauss_sw),
    "E": (e_hist_lo, e_hist_hi, e_hist_n, e_sw_lo, e_sw_hi, e_sw_n, e_gauss_x, e_gauss_dpw, e_gauss_sw_x, e_gauss_sw),
}

FS = "8px"
MID_X = [-0.20, -0.15, -0.10, -0.05, 0.0, 0.05, 0.10, 0.15, 0.20]
rows_out = []
for cfg in rows_cfg:
    last = cfg["key"] == "E"
    bt, bb, h = cfg["t"], cfg["b"], cfg["h"]

    # ---- label strip (panel letter + two-coloured y label) ----
    ps = figure(width=STRIP_W, height=h, x_range=Range1d(0, 1), y_range=Range1d(0, 1),
                x_axis_location=None, y_axis_location=None, output_backend="svg", toolbar_location=None,
                min_border_left=0, min_border_right=0, min_border_top=0, min_border_bottom=0)
    ps.outline_line_color = None
    ps.xgrid.visible = False
    ps.ygrid.visible = False
    ps.background_fill_color = "white"
    ps.border_fill_color = "white"
    canvas_label(ps, "Sw", cfg["lab_x"], cfg["lab_y"][0], color=RED, size="10.5px", angle=np.pi / 2)
    canvas_label(ps, "dPw [bar]", cfg["lab_x"], cfg["lab_y"][1], color=BLUE, size="10.5px", angle=np.pi / 2)
    canvas_label(ps, cfg["key"], cfg["letter"][0], cfg["letter"][1], size="15px", font="Liberation Sans",
                 style="bold", color="#000000")

    # ---- left: time series ----
    pl = make_fig(305 - STRIP_W, h, Range1d(*cfg["x"]), Range1d(*cfg["y"]), (60 - STRIP_W, 10, bt, bb))
    pl.line(cfg["dpw"][0], cfg["dpw"][1], color=BLUE, line_width=1.3)
    pl.line(cfg["sw"][0], cfg["sw"][1], color=RED, line_width=1.3)
    style_axis(pl.xaxis[0], cfg["xfs"], cfg["xt"], [str(v) for v in cfg["xt"]])
    style_axis(pl.yaxis[0], FS, cfg["yt"], [lab(v, cfg["ynd"]) for v in cfg["yt"]])
    pl.yaxis[0].major_label_standoff = 1
    if last:
        pl.xaxis[0].axis_label = "time [s]"
        pl.xaxis[0].axis_label_text_font_size = "9px"
        pl.xaxis[0].axis_label_standoff = 1
    canvas_label(pl, cfg["fw"], cfg["fw_x"], cfg["fw_y"], size="8px", align="left")

    # ---- middle: histogram ----
    pm = make_fig(285, h, Range1d(-0.218, 0.216), Range1d(*cfg["hy"]), (43, 3, bt, bb))
    if cfg["key"] == "B":
        pm.quad(left=[v - 0.00045 for v in b_hist_x], right=[v + 0.00045 for v in b_hist_x],
                bottom=0, top=b_hist_n, fill_color=BLUE, line_color=None, legend_label="dPw [bar]")
        pm.quad(left=[v - 0.0003 for v in b_sw_x], right=[v + 0.0003 for v in b_sw_x],
                bottom=0, top=b_sw_n, fill_color=RED, line_color=None, legend_label="Sw")
        pm.line(b_gauss_x, b_gauss_dpw, color=LIGHTBLUE, line_width=1.5, line_dash="5 2")
        pm.line(b_gauss_x, b_gauss_sw, color=ORANGE, line_width=1.5, line_dash="5 2")
        # inset
        pm.quad(left=-0.2059, right=-0.0142, bottom=39.7, top=101.8, fill_color="white",
                line_color=FRAME, line_width=1)
        sub = pm.subplot(x_source=Range1d(-0.0148, 0.0153), y_source=Range1d(0, 104),
                         x_target=Range1d(-0.2059, -0.0142), y_target=Range1d(39.7, 101.8))
        gxi = [x for x in b_gauss_x if abs(x) <= 0.015]
        gbi = [y for x, y in zip(b_gauss_x, b_gauss_dpw) if abs(x) <= 0.015]
        gsi = [y * inset_scale for x, y in zip(b_gauss_x, b_gauss_sw) if abs(x) <= 0.015]
        sub.line(gxi, gbi, color=BLUE, line_width=1.3, line_dash="3 2")
        sub.scatter(b_hist_x, b_hist_n, size=3.2, color=BLUE)
        sub.line(gxi, gsi, color=RED, line_width=1.3, line_dash="3 2")
        sub.scatter(b_sw_x, [v * inset_scale for v in b_sw_n], size=3.2, color=RED)
        sub.text(x=[0.0006], y=[37], text=["5x"], text_color=RED, text_font=value(FONT),
                 text_font_size="13px", text_align="center", text_baseline="middle")
        sub.segment(x0=[-0.01, 0.0, 0.01], y0=[0, 0, 0], x1=[-0.01, 0.0, 0.01], y1=[-2.3, -2.3, -2.3],
                    color=FRAME, line_width=1)
        sub.text(x=[-0.01, 0.0, 0.01], y=[0, 0, 0], text=[MINUS + "0.01", "0.00", "0.01"],
                 text_font=value(FONT), text_font_size="6.5px", text_align="center", text_baseline="top",
                 y_offset=4, text_color=TXT)
        sub.text(x=[0.0], y=[0], text=["dp noise [bar]"], text_font=value(FONT), text_font_size="6.5px",
                 text_align="center", text_baseline="top", y_offset=13, text_color=TXT)
    else:
        lo, hi, n, slo, shi, sn, gx, gd, gsx, gs = hist_cfg[cfg["key"]]
        e1 = np.linspace(lo, hi, len(n) + 1)
        pm.quad(left=e1[:-1], right=e1[1:], bottom=0, top=n, fill_color=BLUE, line_color=None,
                legend_label="dPw [bar]")
        e2 = np.linspace(slo, shi, len(sn) + 1)
        pm.quad(left=e2[:-1], right=e2[1:], bottom=0, top=sn, fill_color=RED, line_color=None,
                legend_label="Sw")
        pm.line(gx, gd, color=LIGHTBLUE, line_width=1.5, line_dash="5 2")
        pm.line(gsx, gs, color=ORANGE, line_width=1.5, line_dash="5 2")
    style_axis(pm.xaxis[0], FS, MID_X, [lab(v, 2) for v in MID_X])
    style_axis(pm.yaxis[0], FS, cfg["hyt"], [str(v) for v in cfg["hyt"]])
    pm.yaxis[0].axis_label = "counts"
    pm.yaxis[0].axis_label_text_font_size = "9px"
    pm.yaxis[0].axis_label_standoff = 7
    if last:
        pm.xaxis[0].axis_label = "noise"
        pm.xaxis[0].axis_label_text_font_size = "9px"
        pm.xaxis[0].axis_label_standoff = 1
    lgm = pm.legend[0]
    lgm.location = "top_right"
    lgm.label_text_font = FONT
    lgm.label_text_font_size = "8.5px"
    lgm.label_text_color = TXT
    lgm.glyph_width = 17
    lgm.glyph_height = 7
    lgm.label_height = 9
    lgm.spacing = 3
    lgm.padding = 4
    lgm.margin = 3
    lgm.border_line_color = "#cccccc"
    lgm.background_fill_alpha = 0.85

    # ---- right: PSD ----
    pr = make_fig(289, h, Range1d(*cfg["px"]), Range1d(*cfg["py"]), (44, 5, bt, bb), xtype="log", ytype="log")
    f1, p1, f2, p2 = cfg["psd"]
    pr.line(np.power(10.0, f1), np.power(10.0, p1), color=BLUE, line_width=1.4)
    pr.line(np.power(10.0, f2), np.power(10.0, p2), color=RED, line_width=1.4)
    for fx, y0, y1, col in cfg["arrows"]:
        c = COLORS[col]
        pr.add_layout(Arrow(end=NormalHead(size=17, fill_color=c, line_color=c, line_width=1),
                            x_start=fx, y_start=y0, x_end=fx, y_end=y1, line_color=c, line_width=5))
    style_axis(pr.xaxis[0], FS, [1e-4, 1e-3, 1e-2], [loglab(-4), loglab(-3), loglab(-2)], minor=log_minor(-5, -1))
    pyt = cfg["pyt"]
    style_axis(pr.yaxis[0], FS, [10.0 ** e for e in pyt], [loglab(e) for e in pyt],
               minor=log_minor(min(pyt) - 1, max(pyt) + 1))
    pr.yaxis[0].axis_label = "PSD"
    pr.yaxis[0].axis_label_text_font_size = "9px"
    pr.yaxis[0].axis_label_standoff = 7
    if last:
        pr.xaxis[0].axis_label = "frequency [Hz]"
        pr.xaxis[0].axis_label_text_font_size = "9px"
        pr.xaxis[0].axis_label_standoff = 1

    rows_out.append(row(ps, pl, pm, pr))

layout = column(pA, *rows_out)
open("out.html", "w").write(file_html(layout, INLINE, title="Noise analysis"))
